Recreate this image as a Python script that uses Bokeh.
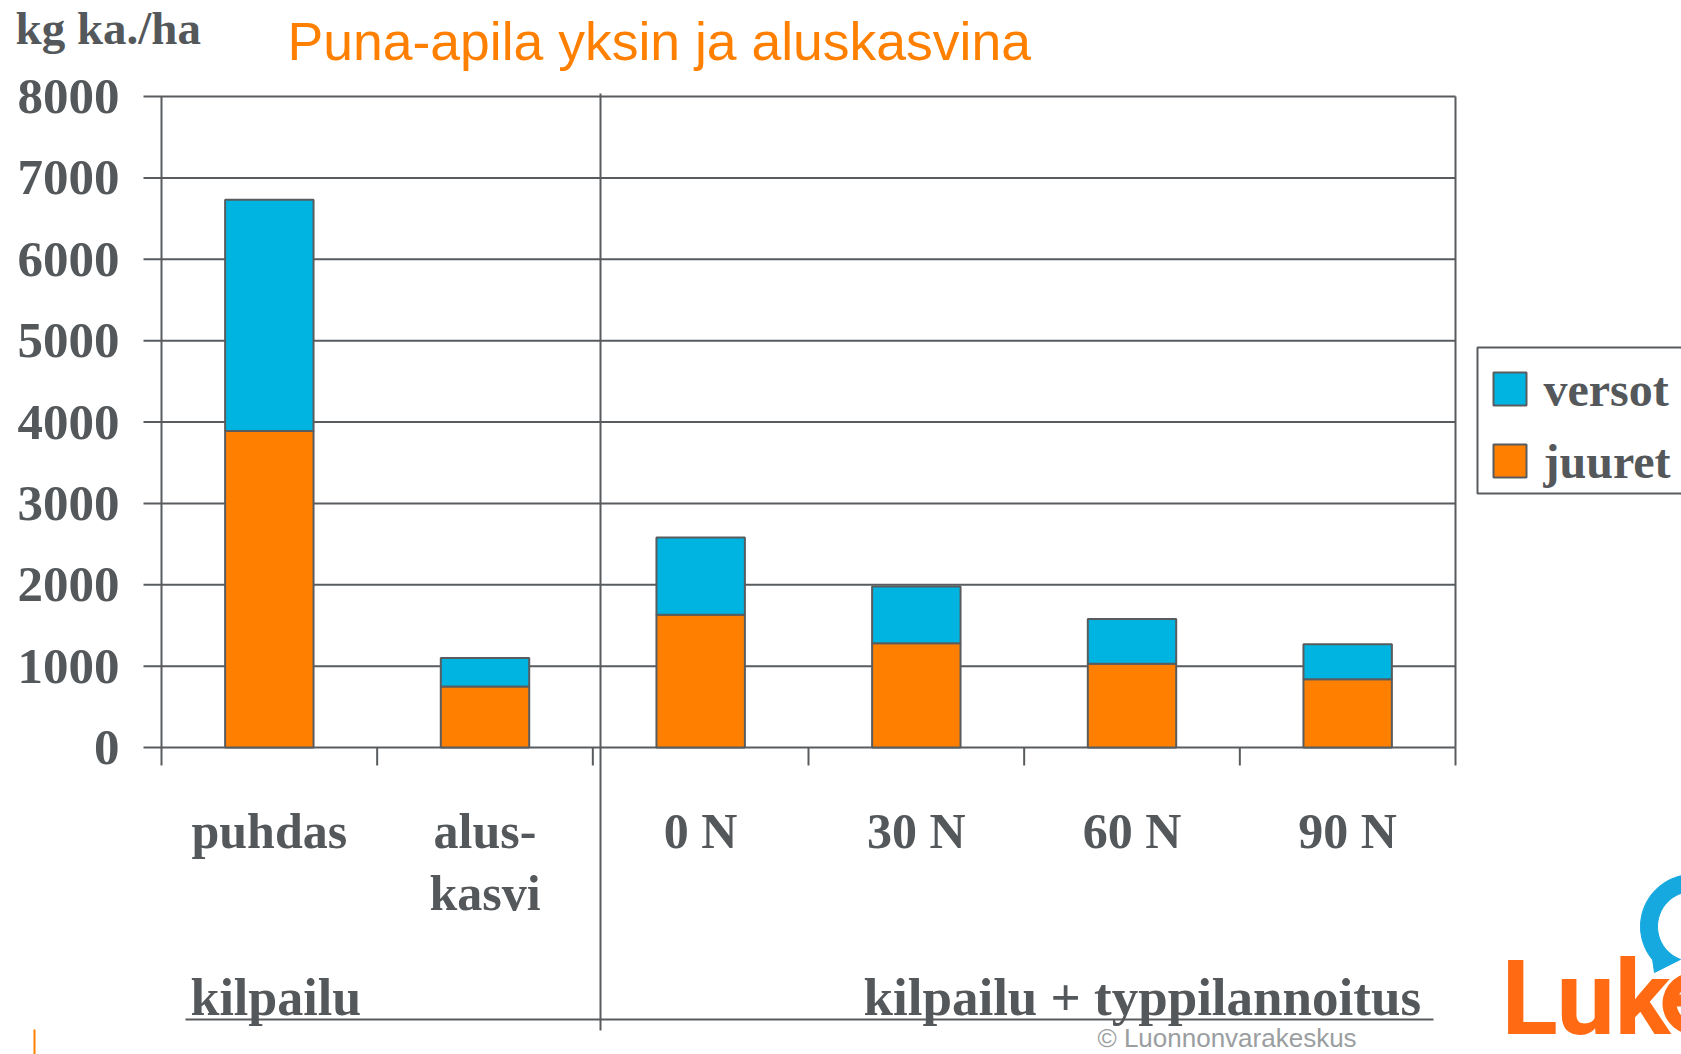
import numpy as np
from bokeh.plotting import figure
from bokeh.models import Range1d, ColumnDataSource
from bokeh.core.properties import value
from bokeh.embed import file_html
from bokeh.resources import INLINE

# ---------------- data ----------------
categories = ["puhdas", "alus-\nkasvi", "0 N", "30 N", "60 N", "90 N"]
juuret = [3890, 750, 1630, 1280, 1030, 840]      # roots (orange, bottom)
versot = [2840, 350, 950, 700, 550, 430]         # shoots (cyan, top)
y_ticks = [0, 1000, 2000, 3000, 4000, 5000, 6000, 7000, 8000]
series_names = ["juuret", "versot"]
y_label = "kg ka./ha"
title_text = "Puna-apila yksin ja aluskasvina"
group_left = "kilpailu"
group_right = "kilpailu + typpilannoitus"
credit = "\u00a9 Luonnonvarakeskus"
logo_text = "Luk"          # the final "e" of the logo is cut by the page edge

# ---------------- style ----------------
ORANGE = "#FF8000"
CYAN = "#00B4E1"
series_colors = [ORANGE, CYAN]
GRAY = "#585C5F"
TEXT = "#54585B"
LOGO_ORANGE = "#FF6A13"
LOGO_BLUE = "#16A9DF"
SERIF = "Liberation Serif"
SANS = "Liberation Sans"

W, H = 1681, 1054
FL, FR, FT, FB = 161, 1455, 96, 747   # plot area in page pixels

n = len(categories)
xs = list(range(1, n + 1))
cx0, cx1 = 0.5, n + 0.5
vy0, vy1 = y_ticks[0], y_ticks[-1]


def X(px):
    return cx0 + (px - FL) / (FR - FL) * (cx1 - cx0)


def Y(py):
    return vy0 + (FB - py) / (FB - FT) * (vy1 - vy0)


p = figure(width=W, height=H,
           x_range=Range1d(X(0), X(W)), y_range=Range1d(Y(H), Y(0)),
           output_backend="svg", toolbar_location=None,
           x_axis_type=None, y_axis_type=None, min_border=0)
p.background_fill_color = "white"
p.border_fill_color = "white"
p.outline_line_color = None

# ---- horizontal grid lines (with outward y ticks) ----
nt = len(y_ticks)
p.segment(x0=[X(143)] * nt, y0=y_ticks, x1=[cx1] * nt, y1=y_ticks,
          line_color=GRAY, line_width=2)
# left axis line, right frame edge
p.segment(x0=[cx0, cx1], y0=[vy0, vy0], x1=[cx0, cx1], y1=[vy1, vy1],
          line_color=GRAY, line_width=2)
# category boundary ticks below x axis
bounds = [i + 0.5 for i in range(n + 1)]
p.segment(x0=bounds, y0=[vy0] * len(bounds), x1=bounds, y1=[Y(765)] * len(bounds),
          line_color=GRAY, line_width=2)
# divider, underline
p.segment(x0=[X(600), X(185)], y0=[Y(93), Y(1019)], x1=[X(600), X(1433)],
          y1=[Y(1030), Y(1019)], line_color=GRAY, line_width=2)
# small orange mark
p.segment(x0=[X(34)], y0=[Y(1029)], x1=[X(34)], y1=[Y(1054)],
          line_color=ORANGE, line_width=2)

# ---- stacked bars ----
source = ColumnDataSource(dict(x=xs, juuret=juuret, versot=versot))
rs = p.vbar_stack(series_names, x="x", width=0.41, source=source,
                  fill_color=series_colors, line_color=GRAY, line_width=2)

# ---- y tick labels ----
p.text(x=[X(119)] * nt, y=y_ticks, text=[str(t) for t in y_ticks],
       text_font=value(SERIF), text_font_size="51px", text_font_style="bold",
       text_color=TEXT, text_align="right", text_baseline="middle")


def mid(baseline_px, size, k=0.34):
    # vertical middle of the em box for a given baseline (page px)
    return Y(baseline_px - k * size)


# ---- category labels (multi-line split) ----
lx, ly, lt = [], [], []
for i, c in enumerate(categories):
    for j, part in enumerate(c.split("\n")):
        lx.append(xs[i])
        ly.append(mid(847 + 62 * j, 50))
        lt.append(part)
p.text(x=lx, y=ly, text=lt, text_font=value(SERIF), text_font_size="50px",
       text_font_style="bold", text_color=TEXT, text_align="center",
       text_baseline="middle")


def lab(text, px, base, size, font=SERIF, style="bold", color=TEXT, align="left"):
    p.text(x=[X(px)], y=[mid(base, size)], text=[text], text_font=value(font),
           text_font_size=f"{size}px", text_font_style=style, text_color=color,
           text_align=align, text_baseline="middle")


lab(y_label, 15, 43, 47)
lab(title_text, 287, 59, 53.5, font=SANS, style="normal", color=ORANGE)
lab(group_left, 190, 1015, 52)
lab(group_right, 863, 1015, 53)
lab(credit, 1097, 1046, 26, font=SANS, style="normal", color="#9A9EA1")

# ---- legend (drawn box, swatches and labels) ----
p.quad(left=[X(1477)], right=[X(1720)], top=[Y(347)], bottom=[Y(493)],
       fill_color="white", line_color=GRAY, line_width=2)
leg_names = list(reversed(series_names))          # versot on top
leg_colors = list(reversed(series_colors))
row_top = [372, 444]
p.quad(left=[X(1493)] * 2, right=[X(1526)] * 2,
       top=[Y(t) for t in row_top], bottom=[Y(t + 33) for t in row_top],
       fill_color=leg_colors, line_color=GRAY, line_width=2)
p.text(x=[X(1543)] * 2, y=[mid(t + 33, 48) for t in row_top], text=leg_names,
       text_font=value(SERIF), text_font_size="48px", text_font_style="bold",
       text_color=TEXT, text_align="left", text_baseline="middle")

# ---- logo: blue swoosh and word mark ----
ccx, ccy, R, r = 1692, 926, 52, 35
th_out = np.radians(np.linspace(75, 220, 30))
th_in = np.radians(np.linspace(250, 75, 30))
sw = [(ccx + R * np.cos(t), ccy - R * np.sin(t)) for t in th_out]
sw.append((1654, 972))
sw += [(ccx + r * np.cos(t), ccy - r * np.sin(t)) for t in th_in]
p.patch(x=[float(X(a)) for a, b in sw], y=[float(Y(b)) for a, b in sw],
        fill_color=LOGO_BLUE, line_color=LOGO_BLUE, line_width=1)
# left part of the cut-off "e"
p.annular_wedge(x=[X(1693)], y=[Y(1003)], inner_radius=17, outer_radius=31,
                inner_radius_units="screen", outer_radius_units="screen",
                start_angle=0.35, end_angle=5.5, fill_color=LOGO_ORANGE,
                line_color=None)
p.quad(left=[X(1672)], right=[X(1700)], top=[Y(994)], bottom=[Y(1006)],
       fill_color=LOGO_ORANGE, line_color=None)
lab(logo_text, 1501, 1033, 104, font="Roboto", style="bold", color=LOGO_ORANGE)

open("out.html", "w").write(file_html(p, INLINE))
